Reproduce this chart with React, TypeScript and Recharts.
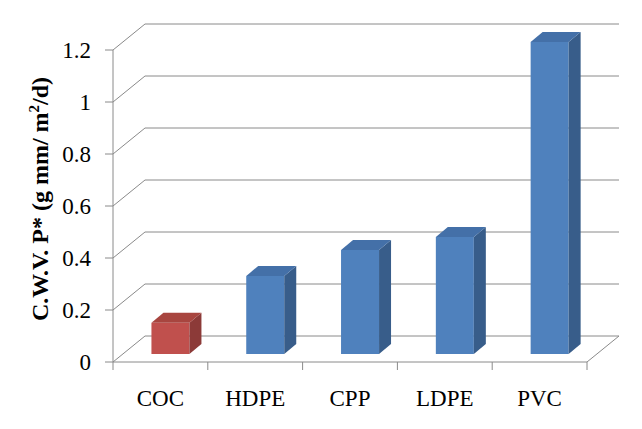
import { Bar, BarChart, CartesianGrid, Cell, Label, XAxis, YAxis } from 'recharts'

const categories = ['COC', 'HDPE', 'CPP', 'LDPE', 'PVC']
const wvpValues = [0.12, 0.3, 0.4, 0.45, 1.2]
const yTicks = [0, 0.2, 0.4, 0.6, 0.8, 1, 1.2]
const highlighted = 'COC'

const data = categories.map((name, i) => ({ name, value: wvpValues[i] }))

const FONT = '"Liberation Serif", "Times New Roman", serif'
const GRID = '#8a8a8a'
// wall depth and bar placement inside the 3D box
const WALL_DX = 32
const WALL_DY = -26
const SHIFT_X = 10
const SHIFT_Y = -8
const BAR_DX = 12
const BAR_DY = -10

const BLUE = { front: '#4f81bd', side: '#385d8a', top: '#4470a8' }
const RED = { front: '#c0504d', side: '#8c3a38', top: '#a8453f' }

function WallLine(props: any) {
  const { x1, y1, x2, y, height, index } = props
  const isFloor = y != null && height != null ? Math.abs(y1 - (y + height)) < 0.5 : index === 0
  let d = `M${x1},${y1}L${x1 + WALL_DX},${y1 + WALL_DY}L${x2 + WALL_DX},${y1 + WALL_DY}`
  if (isFloor) d += `M${x1},${y1}L${x2},${y1}L${x2 + WALL_DX},${y1 + WALL_DY}`
  return <path key={`wall-${index}`} d={d} stroke={GRID} strokeWidth={1} fill="none" />
}

function Bar3D(props: any) {
  const { x, y, width, height, payload } = props
  if (!height) return null
  const c = payload.name === highlighted ? RED : BLUE
  const fx = x + SHIFT_X
  const fy = y + SHIFT_Y
  const r = fx + width
  const b = fy + height
  return (
    <g>
      <rect x={fx} y={fy} width={width} height={height} fill={c.front} />
      <path
        d={`M${r},${fy}L${r + BAR_DX},${fy + BAR_DY}L${r + BAR_DX},${b + BAR_DY}L${r},${b}Z`}
        fill={c.side}
      />
      <path
        d={`M${fx},${fy}L${fx + BAR_DX},${fy + BAR_DY}L${r + BAR_DX},${fy + BAR_DY}L${r},${fy}Z`}
        fill={c.top}
      />
    </g>
  )
}

function CategoryTick(props: any) {
  const { x, y, payload, index, visibleTicksCount } = props
  const half = payload?.offset || 47.4
  const isLast = index === visibleTicksCount - 1
  return (
    <g>
      <line x1={x - half} y1={y} x2={x - half} y2={y + 8} stroke={GRID} />
      {isLast && <line x1={x + half} y1={y} x2={x + half} y2={y + 8} stroke={GRID} />}
      <text x={x} y={y + 44} textAnchor="middle" fontFamily={FONT} fontSize={23} fill="#000">
        {payload.value}
      </text>
    </g>
  )
}

function ValueTick(props: any) {
  const { x, y, payload } = props
  return (
    <text x={x} y={y + 8} textAnchor="end" fontFamily={FONT} fontSize={23} fill="#000">
      {payload.value}
    </text>
  )
}

function YTitle(props: any) {
  const vb = props.viewBox || { x: 0, y: 50, width: 113, height: 312 }
  const cx = vb.x + 48
  const cy = vb.y + vb.height / 2 - 7
  return (
    <text
      x={cx}
      y={cy}
      transform={`rotate(-90, ${cx}, ${cy})`}
      textAnchor="middle"
      fontFamily={FONT}
      fontWeight="bold"
      fontSize={24}
      fill="#000"
    >
      C.W.V. P* (g mm/ m
      <tspan dy={-9} fontSize={15}>
        2
      </tspan>
      <tspan dy={9}>/d)</tspan>
    </text>
  )
}

export default function App() {
  return (
    <div style={{ position: 'fixed', left: 0, top: 0, width: 642, height: 429, background: '#fff' }}>
      <BarChart
        width={642}
        height={429}
        data={data}
        margin={{ top: 50, right: 55, bottom: 0, left: 0 }}
        barCategoryGap="30%"
      >
        <CartesianGrid vertical={false} horizontal={WallLine} />
        <XAxis
          dataKey="name"
          height={67}
          axisLine={false}
          tickLine={false}
          tickSize={0}
          tickMargin={0}
          interval={0}
          tick={CategoryTick}
        />
        <YAxis
          width={113}
          domain={[0, 1.2]}
          ticks={yTicks}
          interval={0}
          axisLine={{ stroke: GRID }}
          tickLine={{ stroke: GRID }}
          tickSize={8}
          tickMargin={14}
          tick={ValueTick}
        >
          <Label content={YTitle} />
        </YAxis>
        <Bar dataKey="value" shape={Bar3D} isAnimationActive={false}>
          {data.map((d) => (
            <Cell key={d.name} fill={d.name === highlighted ? RED.front : BLUE.front} />
          ))}
        </Bar>
      </BarChart>
    </div>
  )
}
